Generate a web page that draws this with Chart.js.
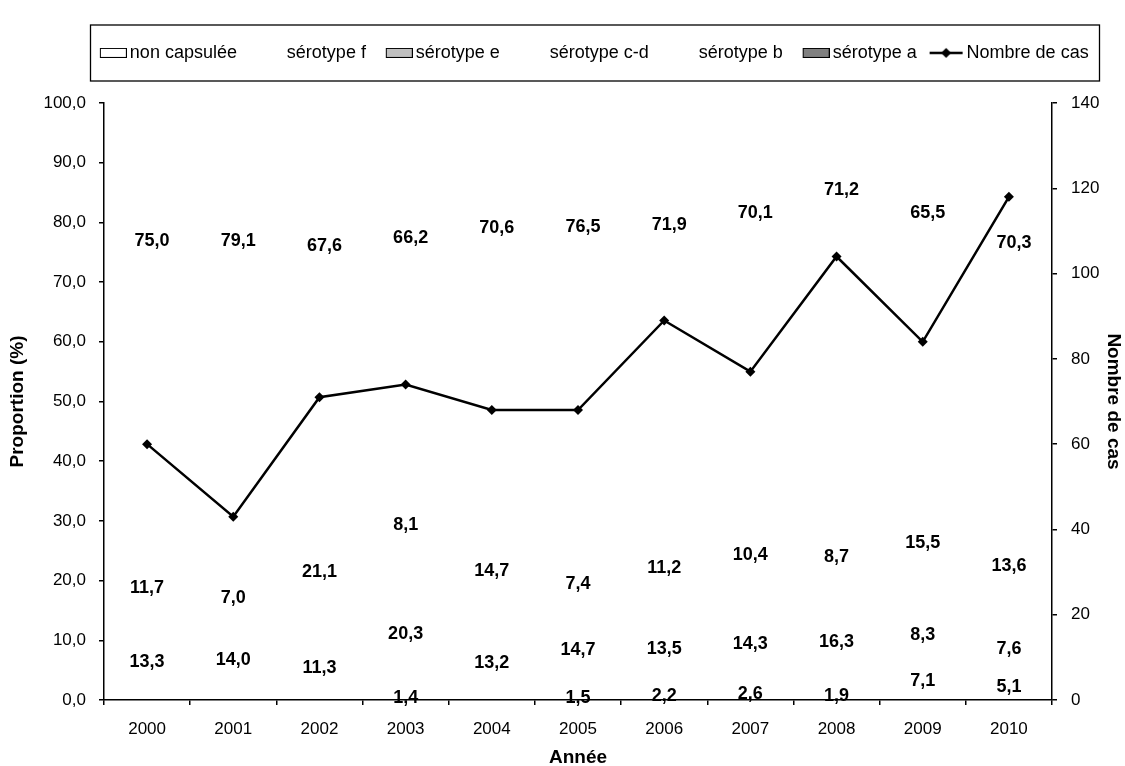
<!DOCTYPE html>
<html lang="fr">
<head>
<meta charset="utf-8">
<title>Haemophilus influenzae – sérotypes</title>
<script src="https://cdn.jsdelivr.net/npm/chart.js@4.4.1/dist/chart.umd.min.js"></script>
<style>
  html, body { margin: 0; padding: 0; background: #ffffff; }
  canvas { display: block; }
</style>
</head>
<body>
<canvas id="chart" width="1125" height="766"></canvas>
<script>
// Années
const years = ['2000', '2001', '2002', '2003', '2004', '2005', '2006', '2007', '2008', '2009', '2010'];

// Proportions (%) par sérotype
const nonCapsulee = [75.0, 79.1, 67.6, 66.2, 70.6, 76.5, 71.9, 70.1, 71.2, 65.5, 70.3];
const serotypeF   = [11.7, 7.0, 21.1, 8.1, 14.7, 7.4, 11.2, 10.4, 8.7, 15.5, 13.6];
const serotypeE   = [0, 0, 0, 4.0, 1.5, 0, 1.2, 2.6, 1.9, 3.6, 3.4];
const serotypeCD  = [0, 0, 0, 0, 0, 0, 0, 0, 0, 0, 0];
const serotypeB   = [13.3, 14.0, 11.3, 20.3, 13.2, 14.7, 13.5, 14.3, 16.3, 8.3, 7.6];
const serotypeA   = [0, 0, 0, 1.4, 0, 1.5, 2.2, 2.6, 1.9, 7.1, 5.1];

// Nombre de cas (axe de droite)
const nombreDeCas = [60, 43, 71, 74, 68, 68, 89, 77, 104, 84, 118];

const FONT = '"Liberation Sans", Arial, Helvetica, sans-serif';
const fmt = v => v.toFixed(1).replace('.', ',');

// Legend symbols drawn on small canvases
function swatch(fill) {
  const c = document.createElement('canvas');
  c.width = 40; c.height = 10;
  const g = c.getContext('2d');
  if (fill) {
    g.fillStyle = fill;
    g.fillRect(13.5, 0.5, 26, 9);
    g.strokeStyle = '#000';
    g.lineWidth = 1;
    g.strokeRect(13.5, 0.5, 26, 9);
  }
  return c;
}
function lineSymbol() {
  const c = document.createElement('canvas');
  c.width = 40; c.height = 12;
  const g = c.getContext('2d');
  g.strokeStyle = '#000';
  g.lineWidth = 2.5;
  g.beginPath(); g.moveTo(6, 6); g.lineTo(39, 6); g.stroke();
  g.fillStyle = '#000';
  g.beginPath(); g.moveTo(22.5, 1); g.lineTo(27.5, 6); g.lineTo(22.5, 11); g.lineTo(17.5, 6); g.closePath(); g.fill();
  return c;
}

const symbols = {
  'non capsulée': swatch('#ffffff'),
  'sérotype f': swatch(null),
  'sérotype e': swatch('#c0c0c0'),
  'sérotype c-d': swatch(null),
  'sérotype b': swatch(null),
  'sérotype a': swatch('#808080'),
  'Nombre de cas': lineSymbol()
};

function barSet(label, data, showValues) {
  return {
    type: 'bar', label, data, yAxisID: 'y', stack: 'proportions',
    backgroundColor: 'rgba(0,0,0,0)', borderWidth: 0,
    categoryPercentage: 1, barPercentage: 0.5,
    showValues
  };
}

// Value labels written on the stacked segments
const valueLabels = {
  id: 'valueLabels',
  afterDatasetsDraw(chart, args, opts) {
    const ctx = chart.ctx;
    const yScale = chart.scales.y;
    ctx.save();
    ctx.font = 'bold 18px ' + FONT;
    ctx.fillStyle = '#000';
    ctx.textAlign = 'center';
    ctx.textBaseline = 'middle';
    chart.data.datasets.forEach((ds, i) => {
      if (ds.type !== 'bar' || !ds.showValues) return;
      const meta = chart.getDatasetMeta(i);
      const levels = opts.levels[ds.label];
      meta.data.forEach((bar, j) => {
        const v = ds.data[j];
        if (!v) return;
        let x = bar.x, y = (bar.y + bar.base) / 2 + opts.dy;
        if (levels) { y = yScale.getPixelForValue(levels[j]); x += opts.dxMoved; }
        ctx.fillText(fmt(v), x, y);
      });
    });
    ctx.restore();
  }
};

// Frame around the legend, and fixed legend band height
const legendFrame = {
  id: 'legendFrame',
  beforeLayout(chart, args, opts) {
    const lg = chart.legend;
    if (lg && !lg._bandHeight) {
      const proto = Object.getPrototypeOf(lg);
      lg.fit = function () { proto.fit.call(this); this.height = opts.bandHeight; };
      lg._bandHeight = true;
    }
  },
  afterDraw(chart, args, opts) {
    const lg = chart.legend;
    const boxes = lg.legendHitBoxes;
    if (!boxes || !boxes.length) return;
    const last = boxes[boxes.length - 1];
    const left = Math.round(boxes[0].left - opts.padLeft) + 0.5;
    const right = Math.round(last.left + last.width + opts.padRight) + 0.5;
    const ctx = chart.ctx;
    ctx.save();
    ctx.strokeStyle = '#000';
    ctx.lineWidth = 1.3;
    ctx.strokeRect(left, opts.top, right - left, opts.bottom - opts.top);
    ctx.restore();
  }
};

new Chart(document.getElementById('chart'), {
  data: {
    labels: years,
    datasets: [
      {
        type: 'line', label: 'Nombre de cas', data: nombreDeCas, yAxisID: 'y1',
        borderColor: '#000', borderWidth: 2.5, tension: 0,
        pointStyle: 'rectRot', pointRadius: 5, pointBackgroundColor: '#000', pointBorderColor: '#000', pointBorderWidth: 0
      },
      barSet('sérotype a', serotypeA, true),
      barSet('sérotype b', serotypeB, true),
      barSet('sérotype c-d', serotypeCD, true),
      barSet('sérotype e', serotypeE, false),
      barSet('sérotype f', serotypeF, true),
      barSet('non capsulée', nonCapsulee, true)
    ]
  },
  options: {
    responsive: false,
    animation: false,
    devicePixelRatio: 1,
    layout: { padding: { top: 31, left: 0, right: -56.5, bottom: 0 } },
    plugins: {
      tooltip: { enabled: false },
      legend: {
        position: 'top',
        reverse: true,
        labels: {
          usePointStyle: true,
          pointStyleWidth: 28,
          padding: 12.9,
          color: '#000',
          font: { family: FONT, size: 18 },
          generateLabels(chart) {
            const items = Chart.defaults.plugins.legend.labels.generateLabels(chart);
            items.forEach(it => { it.pointStyle = symbols[it.text]; it.lineWidth = 0; });
            return items;
          }
        }
      },
      legendFrame: { bandHeight: 72, top: 25, bottom: 81, padLeft: 2.5, padRight: 10 },
      valueLabels: {
        dy: 2.5,
        dxMoved: 5,
        levels: { 'non capsulée': [76.8, 76.9, 76.0, 77.3, 79.1, 79.2, 79.5, 81.6, 85.5, 81.6, 76.6] }
      }
    },
    scales: {
      x: {
        stacked: true,
        grid: { offset: true, drawOnChartArea: false, drawTicks: true, tickLength: 5, color: '#000', lineWidth: 1.5 },
        border: { color: '#000', width: 1.5 },
        ticks: { color: '#000', font: { family: FONT, size: 17 }, padding: 14, maxRotation: 0 },
        title: { display: true, text: 'Année', color: '#000', font: { family: FONT, size: 19, weight: 'bold' }, padding: { top: 0, bottom: -3 } },
        afterFit(s) { s.height = 66; }
      },
      y: {
        position: 'left',
        stacked: true,
        min: 0, max: 100,
        ticks: { stepSize: 10, color: '#000', font: { family: FONT, size: 17 }, padding: 13, callback: v => fmt(v) },
        grid: { drawOnChartArea: false, drawTicks: true, tickLength: 5, color: '#000', lineWidth: 1.5 },
        border: { color: '#000', width: 1.5 },
        title: { display: true, text: 'Proportion (%)', color: '#000', font: { family: FONT, size: 19, weight: 'bold' }, padding: { top: 6.6, bottom: 0 } },
        afterFit(s) { s.width = 104; }
      },
      y1: {
        position: 'right',
        min: 0, max: 140,
        ticks: { stepSize: 20, color: '#000', font: { family: FONT, size: 17 }, padding: 14 },
        grid: { drawOnChartArea: false, drawTicks: true, tickLength: 5, color: '#000', lineWidth: 1.5 },
        border: { color: '#000', width: 1.5 },
        title: { display: true, text: 'Nombre de cas', color: '#000', font: { family: FONT, size: 19, weight: 'bold' }, padding: { top: 57.1, bottom: 0 } },
        afterFit(s) { s.width = 129.5; }
      }
    }
  },
  plugins: [valueLabels, legendFrame]
});
</script>
</body>
</html>
